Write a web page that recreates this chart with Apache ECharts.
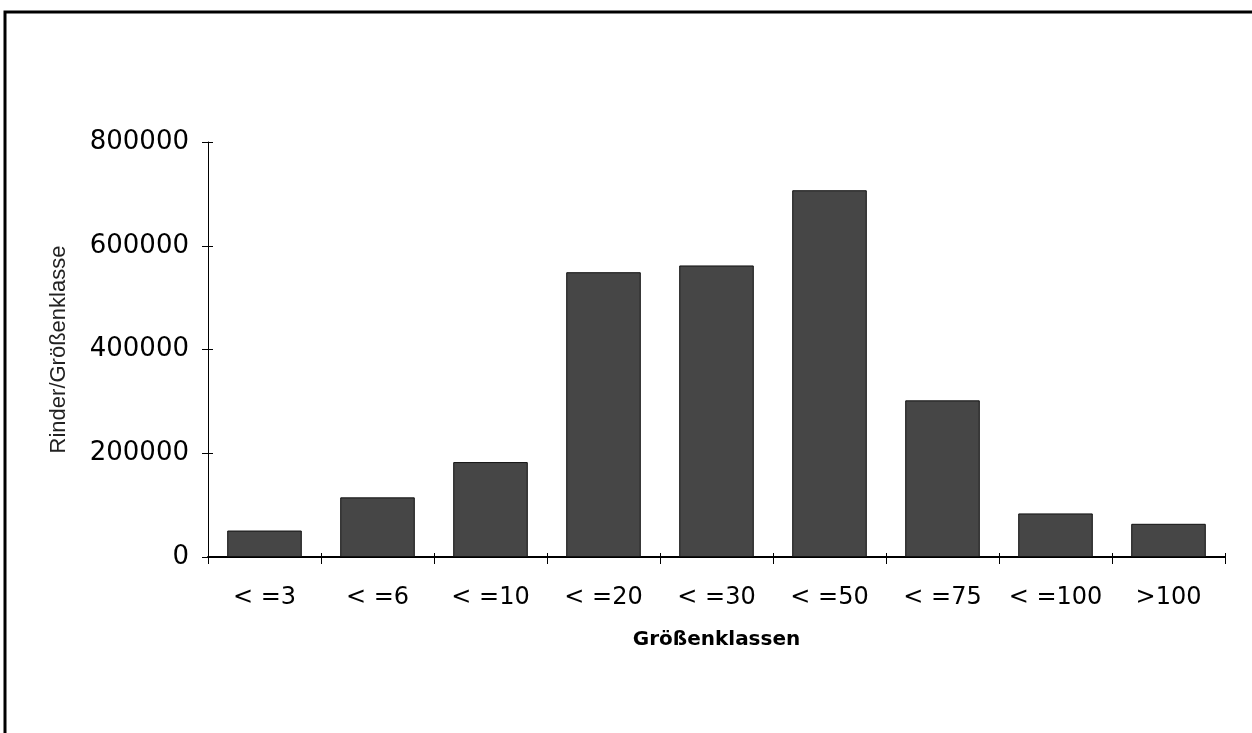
<!DOCTYPE html>
<html>
<head>
<meta charset="utf-8">
<script src="https://cdn.jsdelivr.net/npm/echarts@6/dist/echarts.min.js"></script>
<style>
html,body{margin:0;padding:0;background:#fff;}
#chart{width:1252px;height:733px;}
</style>
</head>
<body>
<div id="chart"></div>
<script>
var categories = ['< =3', '< =6', '< =10', '< =20', '< =30', '< =50', '< =75', '< =100', '>100'];
var values = [51000, 115000, 183000, 549000, 562000, 707000, 302000, 84000, 64000];
var yTicks = {min: 0, max: 800000, interval: 200000};
var xTitle = 'Größenklassen';
var yTitle = 'Rinder/Größenklasse';

var chart = echarts.init(document.getElementById('chart'), null, {renderer: 'canvas'});
chart.setOption({
  backgroundColor: '#ffffff',
  animation: false,
  graphic: [{
    type: 'rect',
    shape: {x: 5, y: 12, width: 1400, height: 900},
    style: {fill: 'none', stroke: '#000', lineWidth: 3},
    silent: true
  }],
  grid: {left: 208, right: 27, top: 142, bottom: 176, containLabel: false},
  xAxis: [{
    type: 'category',
    data: categories,
    boundaryGap: true,
    axisLine: {lineStyle: {color: '#000', width: 2}},
    axisTick: {show: true, length: 7, lineStyle: {color: '#000', width: 1}},
    axisLabel: {color: '#000', fontFamily: 'DejaVu Sans', fontSize: 24, margin: 29, interval: 0},
    name: xTitle,
    nameLocation: 'middle',
    nameGap: 73,
    nameTextStyle: {color: '#000', fontFamily: 'DejaVu Sans', fontWeight: 'bold', fontSize: 20}
  }, {
    type: 'category',
    data: categories,
    position: 'bottom',
    boundaryGap: true,
    axisLine: {show: false},
    axisTick: {show: true, inside: true, length: 4, lineStyle: {color: '#000', width: 1}},
    axisLabel: {show: false}
  }],
  yAxis: [{
    type: 'value',
    min: yTicks.min, max: yTicks.max, interval: yTicks.interval,
    axisLine: {show: true, lineStyle: {color: '#000', width: 1}},
    axisTick: {show: true, length: 6, lineStyle: {color: '#000', width: 1}},
    splitLine: {show: false},
    axisLabel: {color: '#000', fontFamily: 'DejaVu Sans', fontSize: 26, margin: 19,
      formatter: function (v) { return String(v); }},
    name: yTitle,
    nameLocation: 'middle',
    nameGap: 138,
    nameRotate: 90,
    nameTextStyle: {color: '#222', fontFamily: 'Liberation Sans', fontSize: 22}
  }, {
    type: 'value',
    position: 'left',
    min: yTicks.min, max: yTicks.max, interval: yTicks.interval,
    axisLine: {show: false},
    axisTick: {show: true, inside: true, length: 5, lineStyle: {color: '#000', width: 1}},
    splitLine: {show: false},
    axisLabel: {show: false}
  }],
  series: [{
    type: 'bar',
    data: values,
    xAxisIndex: 0,
    yAxisIndex: 0,
    barCategoryGap: '34%',
    itemStyle: {color: '#464646', borderColor: '#111', borderWidth: 1}
  }]
});
</script>
</body>
</html>
